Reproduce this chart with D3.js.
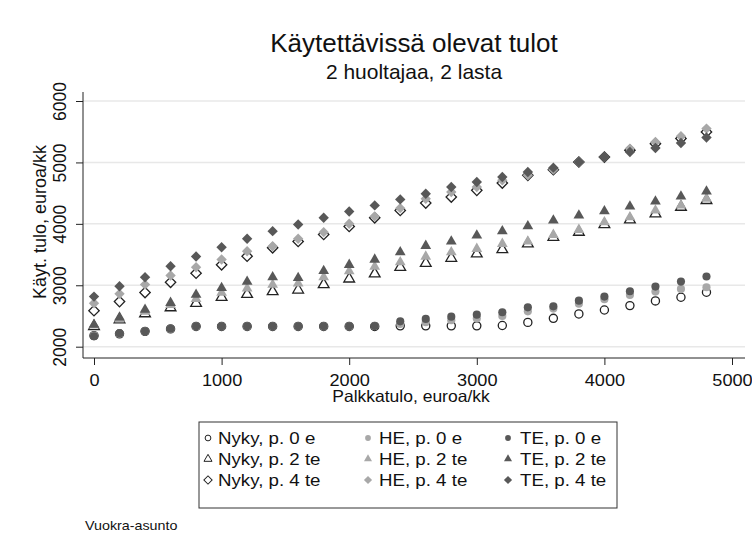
<!DOCTYPE html>
<meta charset="utf-8">
<script src="https://d3js.org/d3.v7.min.js"></script>
<style>
  body { margin: 0; background: #fff; }
  text { font-family: "Liberation Sans", Arial, sans-serif; fill: #111; }
</style>
<div id="chart"></div>
<script>
// palkkatulo, euroa/kk
var palkka = [0, 200, 400, 600, 800, 1000, 1200, 1400, 1600, 1800, 2000, 2200, 2400,
              2600, 2800, 3000, 3200, 3400, 3600, 3800, 4000, 4200, 4400, 4600, 4800];

// käytettävissä olevat tulot, euroa/kk
var nyky0 = [2180, 2210, 2250, 2290, 2330, 2330, 2330, 2330, 2330, 2330, 2330, 2330, 2340,
             2340, 2340, 2340, 2345, 2396, 2462, 2533, 2598, 2669, 2745, 2805, 2886];
var he0   = [2180, 2212, 2250, 2290, 2330, 2330, 2330, 2330, 2330, 2330, 2330, 2335, 2370,
             2400, 2430, 2460, 2500, 2576, 2620, 2700, 2772, 2843, 2897, 2941, 2967];
var te0   = [2170, 2217, 2250, 2293, 2331, 2331, 2331, 2331, 2331, 2331, 2331, 2335, 2413,
             2452, 2489, 2522, 2560, 2641, 2657, 2750, 2816, 2902, 2979, 3060, 3142];

var nyky2 = [2330, 2440, 2538, 2636, 2707, 2805, 2853, 2897, 2924, 3011, 3104, 3186, 3294,
             3359, 3441, 3512, 3582, 3675, 3783, 3865, 3990, 4067, 4165, 4272, 4382];
var he2   = [2345, 2450, 2570, 2680, 2780, 2880, 2950, 3010, 3030, 3131, 3228, 3305, 3375,
             3468, 3538, 3594, 3675, 3713, 3822, 3903, 4028, 4110, 4219, 4300, 4409];
var te2   = [2359, 2478, 2603, 2715, 2848, 2957, 3060, 3131, 3120, 3235, 3333, 3419, 3538,
             3643, 3713, 3811, 3881, 3963, 4055, 4137, 4207, 4284, 4366, 4447, 4529];

var nyky4 = [2587, 2734, 2881, 3049, 3196, 3333, 3473, 3610, 3713, 3827, 3958, 4099, 4219,
             4338, 4436, 4545, 4664, 4790, 4882, 5007, 5088, 5200, 5306, 5388, 5497];
var he4   = [2707, 2860, 3011, 3158, 3294, 3419, 3555, 3636, 3757, 3865, 4001, 4121, 4256,
             4409, 4518, 4600, 4708, 4790, 4882, 5007, 5088, 5225, 5333, 5426, 5551];
var te4   = [2816, 2984, 3131, 3310, 3468, 3620, 3757, 3881, 3990, 4099, 4202, 4300, 4398,
             4491, 4599, 4681, 4762, 4844, 4915, 5007, 5088, 5170, 5235, 5317, 5405];

var xTicks = [0, 1000, 2000, 3000, 4000, 5000];
var yTicks = [2000, 3000, 4000, 5000, 6000];

var labels = ["Nyky, p. 0 e", "HE, p. 0 e", "TE, p. 0 e",
              "Nyky, p. 2 te", "HE, p. 2 te", "TE, p. 2 te",
              "Nyky, p. 4 te", "HE, p. 4 te", "TE, p. 4 te"];

var series = [
  {values: nyky0, style: "hollow", shape: "circle"},
  {values: he0,   style: "light",  shape: "circle"},
  {values: te0,   style: "dark",   shape: "circle"},
  {values: nyky2, style: "hollow", shape: "triangle"},
  {values: he2,   style: "light",  shape: "triangle"},
  {values: te2,   style: "dark",   shape: "triangle"},
  {values: nyky4, style: "hollow", shape: "diamond"},
  {values: he4,   style: "light",  shape: "diamond"},
  {values: te4,   style: "dark",   shape: "diamond"}
];

var colors = {hollow: "#fff", light: "#a8a8a8", dark: "#585858"};

var svg = d3.select("#chart").append("svg")
  .attr("width", 752).attr("height", 550);

var plot = {left: 83, right: 745, top: 92, bottom: 358};

var x = d3.scaleLinear().domain([0, 5000]).range([94, 732]);
var y = d3.scaleLinear().domain([2000, 6000]).range([346.7, 101]);

// gridlines
svg.append("g").selectAll("line").data(yTicks).enter().append("line")
  .attr("x1", plot.left).attr("x2", plot.right)
  .attr("y1", function(d) { return y(d); }).attr("y2", function(d) { return y(d); })
  .attr("stroke", "#e8e8e8").attr("stroke-width", 1.5);

// axes
var yAxis = svg.append("g")
  .attr("transform", "translate(" + plot.left + ",0)")
  .call(d3.axisLeft(y).tickValues(yTicks).tickSize(7).tickSizeOuter(0).tickFormat(d3.format("d")));
yAxis.select(".domain").remove();
yAxis.selectAll("line").attr("stroke", "#222");
yAxis.selectAll("text")
  .attr("x", 0).attr("dy", 0).attr("text-anchor", "middle")
  .attr("transform", "translate(-17,0) rotate(-90)")
  .style("font-size", "17.5px").style("font-family", null);

var xAxis = svg.append("g")
  .attr("transform", "translate(0," + plot.bottom + ")")
  .call(d3.axisBottom(x).tickValues(xTicks).tickSize(7).tickSizeOuter(0).tickFormat(d3.format("d")));
xAxis.select(".domain").remove();
xAxis.selectAll("line").attr("stroke", "#222");
xAxis.selectAll("text")
  .attr("y", 28.5).attr("dy", 0)
  .attr("transform", "scale(1.1,1)")
  .style("font-size", "16.5px").style("font-family", null);

svg.append("line")
  .attr("x1", plot.left).attr("x2", plot.left)
  .attr("y1", plot.top).attr("y2", plot.bottom)
  .attr("stroke", "#222");
svg.append("line")
  .attr("x1", plot.left).attr("x2", plot.right)
  .attr("y1", plot.bottom).attr("y2", plot.bottom)
  .attr("stroke", "#222");

function symbolPath(shape, size) {
  if (shape === "circle") return d3.symbol(d3.symbolCircle, size)();
  if (shape === "triangle") return d3.symbol(d3.symbolTriangle, size)();
  return d3.symbol(d3.symbolSquare, size)();
}
function symbolRot(shape) { return shape === "diamond" ? " rotate(45)" : ""; }
var markSize = {circle: 52, triangle: 50, diamond: 54};

// markers
series.forEach(function(s) {
  svg.append("g").selectAll("path")
    .data(s.values.map(function(v, i) { return {x: palkka[i], y: v}; }))
    .enter().append("path")
    .attr("d", symbolPath(s.shape, markSize[s.shape]))
    .attr("transform", function(d) {
      return "translate(" + x(d.x) + "," + y(d.y) + ")" + symbolRot(s.shape);
    })
    .attr("fill", colors[s.style])
    .attr("stroke", s.style === "hollow" ? "#222" : "none")
    .attr("stroke-width", 1.3);
});

// titles
function hText(txt, px, py, size, sx, anchor) {
  return svg.append("text")
    .attr("transform", "translate(" + px + "," + py + ") scale(" + sx + ",1)")
    .attr("text-anchor", anchor || "middle")
    .style("font-size", size + "px")
    .text(txt);
}
hText("Käytettävissä olevat tulot", 414, 52, 25, 1.04);
hText("2 huoltajaa, 2 lasta", 414, 79, 20, 1.05);
hText("Palkkatulo, euroa/kk", 411, 401.5, 16.5, 1.06);

svg.append("text")
  .attr("transform", "translate(46,222) rotate(-90)")
  .attr("text-anchor", "middle")
  .style("font-size", "18px")
  .text("Käyt. tulo, euroa/kk");

// legend
var legend = {left: 199, top: 422, width: 418, height: 86};
svg.append("rect")
  .attr("x", legend.left).attr("y", legend.top)
  .attr("width", legend.width).attr("height", legend.height)
  .attr("fill", "#fff").attr("stroke", "#333").attr("stroke-width", 1);

var colSym = [208, 368, 508], colTxt = [218, 379, 520], rowY = [438, 459, 480];
var legSize = {circle: 26, triangle: 28, diamond: 34};
series.forEach(function(s, i) {
  var c = i % 3, r = Math.floor(i / 3);
  svg.append("path")
    .attr("d", symbolPath(s.shape, legSize[s.shape]))
    .attr("transform", "translate(" + colSym[c] + "," + rowY[r] + ")" + symbolRot(s.shape))
    .attr("fill", colors[s.style])
    .attr("stroke", s.style === "hollow" ? "#222" : "none")
    .attr("stroke-width", 1);
  hText(labels[i], colTxt[c], rowY[r] + 6, 17, 1.1, "start");
});

hText("Vuokra-asunto", 85, 530, 13, 1.1, "start");
</script>
